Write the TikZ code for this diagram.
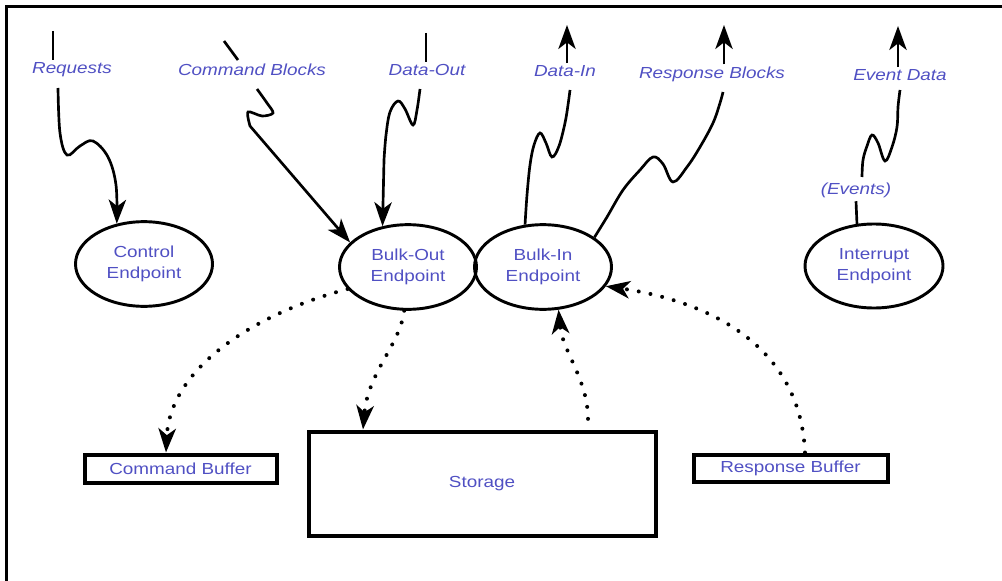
\documentclass[tikz,border=0pt]{standalone}
\usepackage{fontspec}
\setmainfont{Liberation Sans}[FakeStretch=1.18]
\usetikzlibrary{arrows.meta,shapes.geometric}
\definecolor{txtblue}{RGB}{80,80,195}
\begin{document}
\begin{tikzpicture}[x=0.75pt,y=-0.75pt,
  font=\fontsize{12}{16}\selectfont,
  ep/.style={ellipse, draw, line width=2.2pt, minimum width=102.75pt,
    minimum height=63.5pt, inner sep=0pt, align=center, text=txtblue},
  buf/.style={rectangle, draw, line width=3pt, inner sep=0pt, text=txtblue},
  tag/.style={text=txtblue, font=\fontsize{12}{16}\selectfont\itshape,
    anchor=base, inner sep=2pt},
  conn/.style={line width=2pt},
  arr/.style={-{Stealth[length=18pt,width=13pt,inset=5pt]}},
  dots/.style={line width=3pt, line cap=round, dash pattern=on 0pt off 9pt},
  frame/.style={line width=2pt}]
\useasboundingbox (0,0) rectangle (1002,581);
% frame
\coordinate (fTR) at (1002,6.8);
\coordinate (fTL) at (6.8,6.8);
\coordinate (fBL) at (6.8,581);
\draw[frame] (fTR) -- (fTL) -- (fBL);

% endpoints
\node[ep] (ctrl) at (144,264) {Control\\Endpoint};
\node[ep] (bo) at (408,267) {Bulk-Out\\Endpoint};
\node[ep] (bi) at (543,267) {Bulk-In\\Endpoint};
\node[ep, minimum width=103.5pt, minimum height=63pt] (ie) at (874,266) {Interrupt\\Endpoint};

% buffers
\node[buf, minimum width=144pt, minimum height=21pt] (cbuf) at (180.5,468.5) {Command Buffer};
\node[buf, minimum width=260.25pt, minimum height=78pt] (stor) at (482,483.5) {Storage};
\node[buf, minimum width=145.5pt, minimum height=20.25pt] (rbuf) at (790.5,468) {Response Buffer};

% labels
\node[tag] (req) at (72,74) {Requests};
\node[tag] (cmd) at (252,76) {Command Blocks};
\node[tag] (dout) at (427,76) {Data-Out};
\node[tag] (din) at (565,77) {Data-In};
\node[tag] (rsp) at (712,79) {Response Blocks};
\node[tag] (ed) at (900,81) {Event Data};
\node[tag] (ev) at (856,195) {(Events)};

% Requests
\coordinate (rqT) at (53,31);
\coordinate (rqA) at (58,88);
\draw[conn] (rqT) -- (rqT |- req.north);
\draw[conn,arr] plot[smooth,tension=0.6] coordinates {(rqA) (60,133) (67,155) (80,146) (93,141) (108,157) (116,185) (ctrl.124)};

% Command Blocks
\coordinate (cbT) at (224,41);
\coordinate (cbB) at (238,60);
\coordinate (cbA) at (257,89);
\draw[conn] (cbT) -- (cbB);
\draw[conn,arr] plot[smooth,tension=0.5] coordinates {(cbA) (267,103) (273,113) (262,116) (248,112) (250,126)} -- (bo.157);

% Data-Out
\coordinate (doT) at (426,33);
\coordinate (doA) at (420,89);
\draw[conn] (doT) -- (doT |- dout.north);
\draw[conn,arr] plot[smooth,tension=0.6] coordinates {(doA) (417,110) (413,125) (405,109) (398,101) (390,112) (386,135) (384,160)} -- (bo.122);

% Data-In
\coordinate (diT) at (567,25);
\coordinate (diA) at (570,90);
\draw[conn,arr] (diT |- din.north) -- (diT);
\draw[conn] plot[smooth,tension=0.6] coordinates {(bi.113) (527,195) (530,165) (534,145) (540,133) (546,143) (552,157) (559,146) (565,123) (568,105) (diA)};

% Response Blocks
\coordinate (rbT) at (724,25);
\coordinate (rbA) at (723,92);
\draw[conn,arr] (rbT |- rsp.north) -- (rbT);
\draw[conn] plot[smooth,tension=0.6] coordinates {(bi.30) (607,217) (623,190) (640,170) (653,157) (663,164) (673,182) (687,167) (700,147) (713,123) (720,103) (rbA)};

% Event Data
\coordinate (edT) at (898,26);
\coordinate (evA) at (862,177);
\coordinate (edA) at (900,90);
\draw[conn,arr] (edT |- ed.north) -- (edT);
\draw[conn] plot[smooth,tension=0.6] coordinates {(evA) (863,160) (867,146) (872,135) (878,143) (885,161) (892,147) (897,127) (898,107) (edA)};
\draw[conn] (ev.south) -- (ie.112);

% dotted flows
\coordinate (xCB) at (166,0);
\coordinate (xST) at (363,0);
\coordinate (xSB) at (588,0);
\coordinate (xRB) at (805,0);
\draw[dots,arr] (bo.200) .. controls (250,315) and (170,370) .. (cbuf.north -| xCB);
\draw[dots,arr] (bo.265) .. controls (400,345) and (368,372) .. (stor.north -| xST);
\draw[dots,arr,shorten <=8pt] (stor.north -| xSB) .. controls (588,380) and (562,350) .. (bi.-70);
\draw[dots,arr] (rbuf.north -| xRB) .. controls (800,340) and (700,300) .. (bi.-17);
\end{tikzpicture}
\end{document}
